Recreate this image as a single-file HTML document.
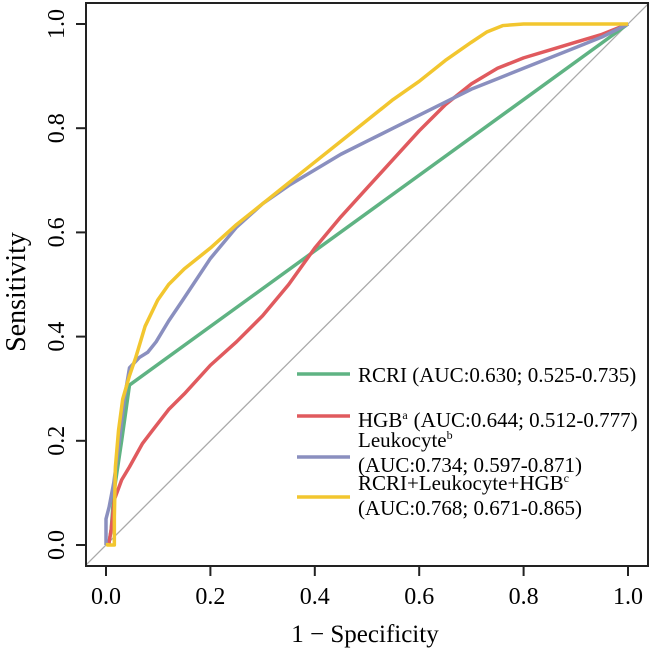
<!DOCTYPE html>
<html><head><meta charset="utf-8"><style>body{margin:0;background:#fff}svg{display:block;font-family:"Liberation Serif",serif}</style></head>
<body>
<svg width="652" height="653">
<g id="plot"></g>
</svg>
<script>
const xTicks=[0,0.2,0.4,0.6,0.8,1.0];
const yTicks=[0,0.2,0.4,0.6,0.8,1.0];
const tickLabels=["0.0","0.2","0.4","0.6","0.8","1.0"];
const seriesNames=["RCRI","HGB","Leukocyte","Combined"];
const rcriX=[0.005,0.01,0.015,0.03,0.045,1];
const rcriY=[0,0.03,0.1,0.2,0.307,1];
const hgbX=[0.005,0.01,0.016,0.03,0.045,0.07,0.089,0.12,0.15,0.2,0.25,0.3,0.35,0.4,0.45,0.5,0.55,0.6,0.65,0.7,0.75,0.8,0.85,0.9,0.95,1];
const hgbY=[0,0.03,0.087,0.125,0.15,0.195,0.22,0.26,0.29,0.345,0.39,0.44,0.5,0.57,0.63,0.685,0.74,0.795,0.845,0.885,0.915,0.935,0.95,0.965,0.98,1];
const leukX=[0,0,0.006,0.015,0.025,0.035,0.045,0.064,0.08,0.096,0.12,0.147,0.2,0.25,0.3,0.35,0.4,0.45,0.5,0.55,0.6,0.65,0.7,0.75,0.8,0.85,0.9,0.95,1];
const leukY=[0,0.05,0.073,0.12,0.196,0.28,0.34,0.36,0.37,0.39,0.43,0.47,0.55,0.61,0.655,0.69,0.72,0.75,0.775,0.80,0.825,0.85,0.875,0.895,0.915,0.935,0.955,0.975,1];
const combX=[0.003,0.003,0.016,0.016,0.018,0.024,0.032,0.045,0.057,0.075,0.099,0.12,0.15,0.2,0.25,0.3,0.35,0.4,0.45,0.5,0.55,0.6,0.65,0.7,0.73,0.76,0.8,0.9,1];
const combY=[0.004,0,0,0.054,0.15,0.22,0.28,0.325,0.36,0.42,0.47,0.50,0.53,0.57,0.615,0.655,0.695,0.735,0.775,0.815,0.855,0.89,0.93,0.965,0.985,0.997,1,1,1];
const colors=["#5fb383","#e05a5e","#8a8fbf","#f2c62f"];
const legendText=[["RCRI (AUC:0.630; 0.525-0.735)"],["HGB<tspan font-size='12' dy='-8'>a</tspan><tspan dy='8' dx='6'>(AUC:0.644; 0.512-0.777)</tspan>"],["Leukocyte<tspan font-size='12' dy='-8'>b</tspan>","(AUC:0.734; 0.597-0.871)"],["RCRI+Leukocyte+HGB<tspan font-size='12' dy='-8'>c</tspan>","(AUC:0.768; 0.671-0.865)"]];
const X=v=>106+v*522, Y=v=>545-v*521;
const g=document.getElementById('plot');
let h='';
h+=`<line x1="${X(-0.038)}" y1="${Y(-0.038)}" x2="${X(1.04)}" y2="${Y(1.04)}" stroke="#aaa" stroke-width="1.3"/>`;
h+=`<rect x="86" y="3" width="562" height="563" fill="none" stroke="#222" stroke-width="2"/>`;
xTicks.forEach((t,i)=>{h+=`<line x1="${X(t)}" y1="566" x2="${X(t)}" y2="576" stroke="#222" stroke-width="2"/><text x="${X(t)}" y="604" font-size="24" text-anchor="middle">${tickLabels[i]}</text>`;});
yTicks.forEach((t,i)=>{h+=`<line x1="76" y1="${Y(t)}" x2="86" y2="${Y(t)}" stroke="#222" stroke-width="2"/><text transform="translate(64,${Y(t)}) rotate(-90)" font-size="24" text-anchor="middle">${tickLabels[i]}</text>`;});
h+=`<text x="365" y="642" font-size="25" text-anchor="middle">1 − Specificity</text>`;
h+=`<text transform="translate(25,292) rotate(-90)" font-size="28" text-anchor="middle">Sensitivity</text>`;
const data=[[rcriX,rcriY],[hgbX,hgbY],[leukX,leukY],[combX,combY]];
data.forEach((s,i)=>{const pts=s[0].map((x,j)=>`${X(x)},${Y(s[1][j])}`).join(' ');h+=`<polyline points="${pts}" fill="none" stroke="${colors[i]}" stroke-width="3.5" stroke-linejoin="round"/>`;});
const ly=[374,416,457,497];
const tb=[[382],[427],[447,472],[490,515]];
legendText.forEach((lines,i)=>{h+=`<g><line x1="297" y1="${ly[i]}" x2="350" y2="${ly[i]}" stroke="${colors[i]}" stroke-width="3.5"/>`;
lines.forEach((l,j)=>{h+=`<text x="358" y="${tb[i][j]}" font-size="21">${l}</text>`;});h+='</g>';});
g.innerHTML=h;
</script>
</body></html>
